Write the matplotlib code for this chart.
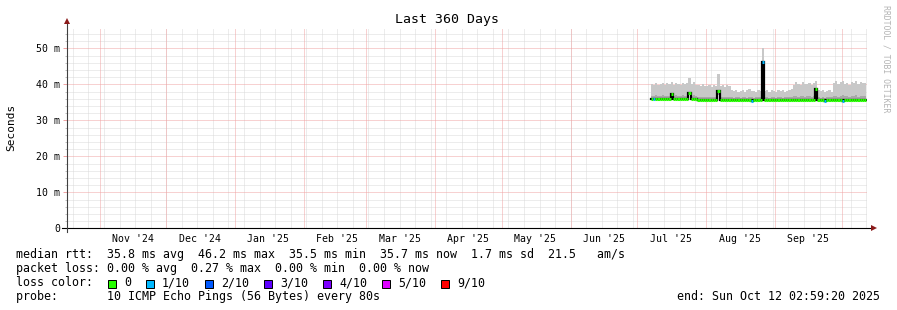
import numpy as np
import pandas as pd
import matplotlib
matplotlib.use("Agg")
import matplotlib.pyplot as plt
from matplotlib.patches import Rectangle

# graph window (360 days ending at the "end" stamp)
end_time = pd.Timestamp("2025-10-12 02:59:20")
start_time = end_time - pd.Timedelta(days=360)

# daily data, first day 2025-07-07
first_day = "2025-07-07"

median_ms = [
    35.9, 35.9, 35.9, 35.9, 35.9, 35.9, 35.9, 35.9, 35.9, 37.3,
    35.9, 35.9, 35.9, 35.9, 35.9, 35.9, 35.9, 37.5, 35.9, 35.9,
    35.9, 35.6, 35.6, 35.6, 35.6, 35.6, 35.6, 35.6, 35.6, 35.6,
    38.1, 35.6, 35.6, 35.6, 35.6, 35.6, 35.6, 35.6, 35.6, 35.6,
    35.6, 35.6, 35.6, 35.6, 35.6, 35.5, 35.6, 35.6, 35.6, 35.6,
    46.2, 35.6, 35.6, 35.6, 35.6, 35.6, 35.6, 35.6, 35.6, 35.6,
    35.6, 35.6, 35.6, 35.6, 35.6, 35.6, 35.6, 35.6, 35.6, 35.6,
    35.6, 35.6, 35.6, 35.6, 38.6, 35.6, 35.6, 35.6, 35.5, 35.6,
    35.6, 35.6, 35.6, 35.6, 35.6, 35.6, 35.5, 35.6, 35.6, 35.6,
    35.6, 35.6, 35.6, 35.6, 35.6, 35.6, 35.6,
]

# loss level per day (index into loss_labels)
loss_level = [
    0, 1, 0, 0, 0, 0, 0, 0, 0, 0,
    0, 0, 0, 0, 0, 0, 0, 0, 0, 0,
    0, 0, 0, 0, 0, 0, 0, 0, 0, 0,
    0, 0, 0, 0, 0, 0, 0, 0, 0, 0,
    0, 0, 0, 0, 0, 1, 0, 0, 0, 0,
    1, 0, 0, 0, 0, 0, 0, 0, 0, 0,
    0, 0, 0, 0, 0, 0, 0, 0, 0, 0,
    0, 0, 0, 0, 0, 0, 0, 0, 1, 0,
    0, 0, 0, 0, 0, 0, 1, 0, 0, 0,
    0, 0, 0, 0, 0, 0, 0,
]

smoke_top = [
    40.2, 39.8, 40.4, 39.9, 40.1, 40.5, 39.7, 40.3, 40.0, 40.6,
    39.9, 40.4, 40.2, 39.8, 40.5, 40.1, 40.3, 41.8, 40.0, 40.6,
    39.9, 39.8, 39.5, 40.1, 39.6, 39.4, 39.9, 39.3, 39.7, 39.5,
    43.0, 39.6, 39.8, 39.2, 39.9, 39.4, 38.3, 38.1, 38.5, 37.9,
    38.2, 38.4, 38.0, 38.3, 38.6, 38.1, 38.2, 37.9, 38.4, 38.2,
    50.0, 38.1, 38.4, 38.0, 38.3, 38.2, 37.9, 38.5, 38.1, 38.3,
    38.0, 38.2, 38.4, 38.6, 39.8, 40.6, 40.1, 39.9, 40.7, 40.2,
    40.0, 40.5, 39.8, 40.3, 40.8, 38.4, 38.1, 38.3, 37.9, 38.2,
    38.5, 38.0, 40.3, 40.9, 40.1, 40.6, 41.0, 40.2, 40.5, 39.9,
    40.7, 40.4, 40.8, 40.1, 40.6, 40.3, 40.5,
]

smoke_mid = [
    36.8, 36.7, 36.9, 36.8, 36.7, 36.9, 36.8, 36.8, 36.7, 37.0,
    36.8, 36.9, 36.7, 36.8, 36.9, 36.7, 36.8, 37.2, 36.8, 36.9,
    36.7, 36.5, 36.6, 36.5, 36.6, 36.4, 36.6, 36.5, 36.6, 36.5,
    37.0, 36.6, 36.5, 36.4, 36.6, 36.5, 36.4, 36.3, 36.5, 36.4,
    36.3, 36.5, 36.4, 36.3, 36.5, 36.4, 36.3, 36.4, 36.5, 36.4,
    37.5, 36.4, 36.5, 36.3, 36.4, 36.4, 36.3, 36.5, 36.4, 36.3,
    36.4, 36.5, 36.4, 36.5, 36.7, 36.8, 36.6, 36.7, 36.8, 36.6,
    36.7, 36.8, 36.6, 36.7, 37.0, 36.4, 36.3, 36.4, 36.3, 36.4,
    36.5, 36.4, 36.7, 36.8, 36.6, 36.8, 36.9, 36.7, 36.8, 36.6,
    36.8, 36.7, 36.9, 36.6, 36.8, 36.7, 36.7,
]

loss_labels = ["0", "1/10", "2/10", "3/10", "4/10", "5/10", "9/10"]
loss_colors = ["#26ff00", "#00b8ff", "#0059ff", "#5e00ff", "#7e00ff", "#dd00ff", "#ff0000"]

month_labels = ["Nov '24", "Dec '24", "Jan '25", "Feb '25", "Mar '25", "Apr '25",
                "May '25", "Jun '25", "Jul '25", "Aug '25", "Sep '25"]
y_ticks = [0, 10, 20, 30, 40, 50]

legend_lines = [
    "median rtt:  35.8 ms avg  46.2 ms max  35.5 ms min  35.7 ms now  1.7 ms sd  21.5   am/s",
    "packet loss: 0.00 % avg  0.27 % max  0.00 % min  0.00 % now",
    "loss color:",
    "probe:       10 ICMP Echo Pings (56 Bytes) every 80s",
]
end_text = "end: Sun Oct 12 02:59:20 2025"

W, H = 897, 310
MONO = "DejaVu Sans Mono"


def fx(x):
    return x / W


def fy(y):
    return 1 - y / H


def days(t):
    return (t - start_time) / pd.Timedelta(days=1)


fig = plt.figure(figsize=(W / 100, H / 100), dpi=100)
fig.patch.set_facecolor("white")

plot_left, plot_right, plot_top, plot_bottom = 66.5, 866.5, 28.3, 228.3
ax = fig.add_axes([fx(plot_left), fy(plot_bottom), (plot_right - plot_left) / W,
                   (plot_bottom - plot_top) / H])
ax.set_xlim(0, 360)
ax.set_ylim(0, (plot_bottom - plot_top) / 3.6)
for s in ax.spines.values():
    s.set_visible(False)

# grid: weekly (Sundays) minor, monthly major
dot = (0, (1, 1))
minor_col = "#dadada"
major_col = "#f0a4a4"
sundays = pd.date_range(start_time.normalize(), end_time, freq="W-SUN")
for d in sundays:
    ax.axvline(days(d), color=minor_col, lw=0.72, ls=dot, zorder=0)
months = pd.date_range(start_time.normalize(), end_time, freq="MS")
for d in months:
    ax.axvline(days(d), color=major_col, lw=0.72, ls=dot, zorder=0.5)
for v in np.arange(2, 56, 2):
    if v % 10:
        ax.axhline(v, color=minor_col, lw=0.72, ls=dot, zorder=0)
for v in y_ticks[1:]:
    ax.axhline(v, color=major_col, lw=0.72, ls=dot, zorder=0.5)

# day edges for data
day_starts = pd.date_range(first_day, periods=len(median_ms), freq="D")
x0 = np.array([days(d) for d in day_starts])
x1 = np.minimum(x0 + 1, 360)
edges = np.append(x0, x1[-1])

med = np.array(median_ms)
top = np.array(smoke_top)
mid = np.array(smoke_mid)

# smoke
ax.fill_between(edges, np.append(med, med[-1]) - 0.3, np.append(top, top[-1]),
                step="post", color="#c8c8c8", lw=0, zorder=2)
ax.fill_between(edges, np.append(med, med[-1]) - 0.3, np.append(mid, mid[-1]),
                step="post", color="#a8a8a8", lw=0, zorder=2.1)

# median: black step connectors, coloured by loss on horizontals
ax.plot(edges, np.append(med, med[-1]), drawstyle="steps-post", color="black",
        lw=1.6, zorder=3, solid_joinstyle="miter")
ax.hlines(med, x0, x1, colors=[loss_colors[k] for k in loss_level], lw=2.2,
          zorder=4)

# axes lines with arrows
ax.plot([-4.5 * 360 / 800, 362], [0, 0], color="black", lw=0.8, clip_on=False, zorder=5)
ax.plot([0, 0], [-1.1, 57.2], color="#404040", lw=0.8, clip_on=False, zorder=5)
ax.plot([363.2], [0], marker=">", color="#8b1a1a", ms=4, clip_on=False, zorder=6,
        markeredgewidth=0)
ax.plot([0], [57.6], marker="^", color="#8b1a1a", ms=4, clip_on=False, zorder=6,
        markeredgewidth=0)

# ticks
ax.set_yticks(y_ticks)
ax.set_yticklabels(["0" if v == 0 else f"{v} m" for v in y_ticks],
                   fontfamily=MONO, fontsize=7.1)
ax.set_yticks(np.arange(2, 56, 2), minor=True)
ax.tick_params(axis="y", which="major", length=3.2, width=0.72, color=major_col, pad=1.5)
ax.tick_params(axis="y", which="minor", length=1.5, width=0.72, color="#c0c0c0")
mid_months = pd.date_range("2024-11-01", periods=len(month_labels), freq="MS") + pd.Timedelta(days=15)
ax.set_xticks([days(d) for d in mid_months])
ax.set_xticklabels(month_labels, fontfamily=MONO, fontsize=7.1)
ax.tick_params(axis="x", length=0, pad=4)

# texts
fig.text(fx(447), fy(20), "Last 360 Days", ha="center", va="center",
         fontfamily=MONO, fontsize=9.5)
fig.text(fx(11), fy(127), "Seconds", ha="center", va="center", rotation=90,
         fontfamily=MONO, fontsize=8)
fig.text(fx(886), fy(59), "RRDTOOL / TOBI OETIKER", ha="center", va="center",
         rotation=270, fontfamily=MONO, fontsize=5.9, color="#b4b4b4")

row_y = [254.3, 268.3, 282.7, 296.7]
for txt, y in zip(legend_lines, row_y):
    fig.text(fx(16), fy(y), txt, ha="left", va="center", fontfamily=MONO, fontsize=8.4)
fig.text(fx(880), fy(296.7), end_text, ha="right", va="center", fontfamily=MONO,
         fontsize=8.4)

# loss colour boxes
bx = 108
for lab, col in zip(loss_labels, loss_colors):
    fig.add_artist(Rectangle((fx(bx), fy(287.5)), 8 / W, 8 / H, transform=fig.transFigure,
                             facecolor=col, edgecolor="black", lw=0.72))
    tx = bx + 16
    fig.text(fx(tx), fy(282.7), lab, ha="left", va="center", fontfamily=MONO, fontsize=8.4)
    bx = tx + 7 * len(lab) + 15

fig.savefig("out.png", dpi=100, facecolor="white")
